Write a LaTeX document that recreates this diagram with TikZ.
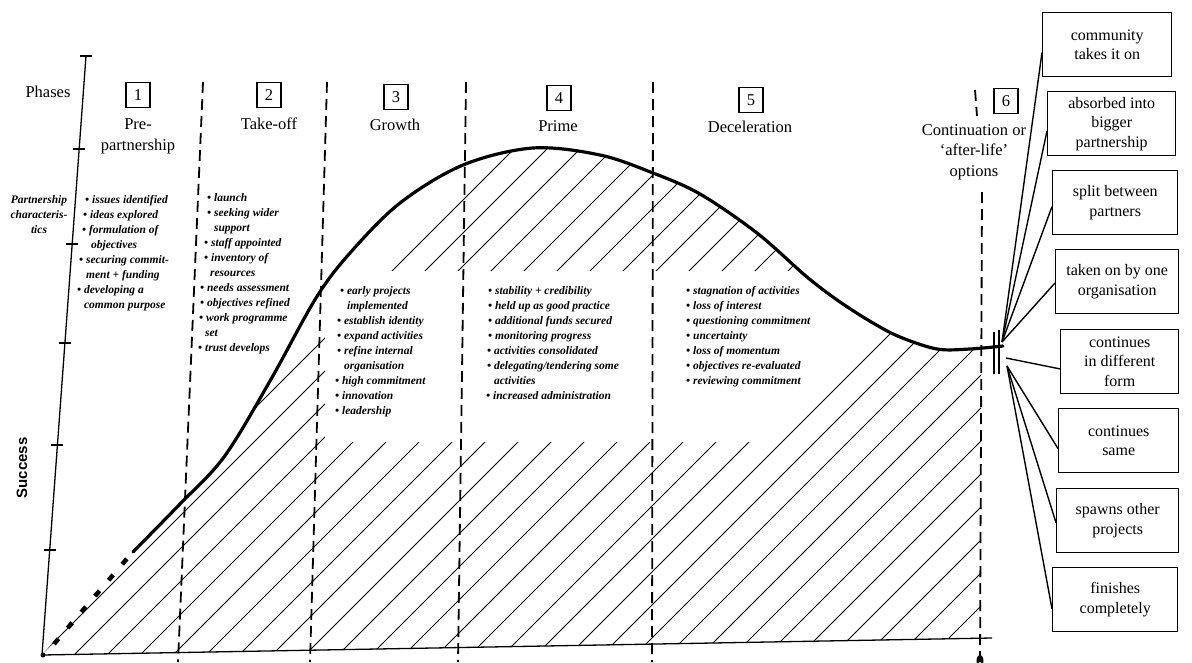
\documentclass[tikz,border=0pt]{standalone}
\usepackage{fontspec}
\setmainfont{Liberation Serif}
\newfontfamily\axisfont{Liberation Sans}
\usetikzlibrary{calc}
% bullet line and continuation line of a characteristics list
\newcommand\itembul[1]{\hspace*{#1pt}\textbullet\ }
\newcommand\itemcont[1]{\hspace*{#1pt}\phantom{\textbullet\ }}
\begin{document}
\begin{tikzpicture}[x=1pt,y=-1pt,
  phasebox/.style={draw,line width=1.3pt,minimum width=24pt,minimum height=25pt,inner sep=0pt,font=\fontsize{16.5}{18}\selectfont},
  headtext/.style={font=\fontsize{16.5}{21}\selectfont,align=center,inner sep=0pt},
  listtext/.style={font=\fontsize{11.5}{15}\selectfont\bfseries\itshape,align=left,inner sep=0pt,anchor=north west},
  optionbox/.style={draw,line width=1.4pt,minimum height=64pt,inner sep=0pt,align=center,font=\fontsize{16}{19.5}\selectfont,anchor=north west},
  separator/.style={line width=1.8pt,dash pattern=on 11pt off 6pt},
  growth/.style={line width=3.2pt,line join=round,line cap=round},
  hatchline/.style={line width=0.9pt},
  fanline/.style={line width=1.4pt},
  axisline/.style={line width=1.3pt},
]
\useasboundingbox (0,0) rectangle (1192,662);
\fill[white] (0,0) rectangle (1192,662);

% hatching under the growth curve
\begin{scope}
  \clip (0,0) rectangle (981,662);
  \clip (42,655) -- (133,552) -- plot[smooth,tension=0.55] coordinates {(133,552) (179,505) (224,457) (270,381) (316,298) (350,253) (400,203) (463,165) (533,148) (600,155) (653,173) (700,194) (757,233) (807,277) (840,302) (873,323) (900,337) (937,349) (970,349) (1003,346)} -- (1003,638) -- cycle;
  \foreach \i in {0,...,31} \draw[hatchline] ({663+33*\i-700},700) -- ({663+33*\i},0);
\end{scope}
% blank band behind the middle lists
\fill[white] (325,271) -- (936,271) -- (765,442) -- (325,442) -- cycle;

% phase separators
\draw[separator] (203,82) -- (178,662);
\draw[separator] (327,82) -- (310,662);
\draw[separator] (466,82) -- (458,662);
\draw[separator] (653,82) -- (652,662);
\draw[separator] (975,90) -- (977,116);
\draw[separator] (982,192) -- (980,662);

% axes
\draw[axisline] (86,56) -- (42,655) -- (992,638);
\draw[axisline] (80,56) -- (92,56);
\foreach \t in {149,244,343,445,550}
  \draw[axisline] ($(86,56)!{(\t-56)/599}!(42,655)$) ++(-6,0) -- ++(12,0);
\fill (43,655) circle (2.5);
\node[inner sep=0pt,anchor=north,font=\fontsize{16}{18}\selectfont\bfseries] (zero) at (980,656) {0};
\node[rotate=90,inner sep=0pt,font=\axisfont\fontsize{15}{18}\selectfont\bfseries] (success) at (22,468) {Success};

% growth curve
\draw[line width=4.5pt,dash pattern=on 7pt off 14pt] (54,644) -- (131,554);
\draw[growth] plot[smooth,tension=0.55] coordinates {(133,552) (179,505) (224,457) (270,381) (316,298) (350,253) (400,203) (463,165) (533,148) (600,155) (653,173) (700,194) (757,233) (807,277) (840,302) (873,323) (900,337) (937,349) (970,349) (1003,346)};
\draw[axisline] (994,332) -- (994,374);
\draw[axisline] (999,330) -- (999,374);

% headings
\node[headtext] (phases) at (48,92) {Phases};
\node[phasebox] (n1) at (138,95) {1};
\node[headtext] (h1) at (138,136) {Pre-\\partnership};
\node[phasebox] (n2) at (269,95) {2};
\node[headtext,anchor=base] (h2) at (269,129) {Take-off};
\node[phasebox] (n3) at (396,97) {3};
\node[headtext,anchor=base] (h3) at (395,130) {Growth};
\node[phasebox] (n4) at (559,98) {4};
\node[headtext,anchor=base] (h4) at (558,131) {Prime};
\node[phasebox] (n5) at (751,100) {5};
\node[headtext,anchor=base] (h5) at (750,132) {Deceleration};
\node[phasebox] (n6) at (1006,101) {6};
\node[headtext,font=\fontsize{16.5}{20.5}\selectfont] (h6) at (974,152) {Continuation or\\`after-life'\\options};

% characteristics
\node[listtext,align=center,anchor=center] (pc) at (39,215) {Partnership\\characteris-\\tics};
\node[listtext] (l1) at (77,195) {%
\itembul{8}issues identified\\
\itembul{6}ideas explored\\
\itembul{5}formulation of\\
\itemcont{7}objectives\\
\itembul{2}securing commit-\\
\itemcont{2}ment + funding\\
\itembul{0}developing a\\
\itemcont{0}common purpose};
\node[listtext] (l2) at (198,193) {%
\itembul{9}launch\\
\itembul{9}seeking wider\\
\itemcont{9}support\\
\itembul{6}staff appointed\\
\itembul{6}inventory of\\
\itemcont{5}resources\\
\itembul{2}needs assessment\\
\itembul{2}objectives refined\\
\itembul{1}work programme\\
\itemcont{0}set\\
\itembul{0}trust develops};
\node[listtext] (l3) at (335,286) {%
\itembul{5}early projects\\
\itemcont{5}implemented\\
\itembul{2}establish identity\\
\itembul{2}expand activities\\
\itembul{2}refine internal\\
\itemcont{2}organisation\\
\itembul{0}high commitment\\
\itembul{0}innovation\\
\itembul{0}leadership};
\node[listtext] (l4) at (486,286) {%
\itembul{2}stability + credibility\\
\itembul{2}held up as good practice\\
\itembul{2}additional funds secured\\
\itembul{2}monitoring progress\\
\itembul{1}activities consolidated\\
\itembul{1}delegating/tendering some\\
\itemcont{1}activities\\
\itembul{0}increased administration};
\node[listtext] (l5) at (686,286) {%
\itembul{0}stagnation of activities\\
\itembul{0}loss of interest\\
\itembul{0}questioning commitment\\
\itembul{0}uncertainty\\
\itembul{0}loss of momentum\\
\itembul{0}objectives re-evaluated\\
\itembul{0}reviewing commitment};

% after-life options
\node[optionbox,minimum width=129pt] (b1) at (1042,12) {community\\takes it on};
\node[optionbox,minimum width=128pt] (b2) at (1047,91) {absorbed into\\bigger\\partnership};
\node[optionbox,minimum width=125pt] (b3) at (1052,170) {split between\\partners};
\node[optionbox,minimum width=123pt] (b4) at (1055,249) {taken on by one\\organisation};
\node[optionbox,minimum width=118pt] (b5) at (1060,329) {continues\\in different\\form};
\node[optionbox,minimum width=120pt] (b6) at (1058,408) {continues\\same};
\node[optionbox,minimum width=122pt] (b7) at (1056,488) {spawns other\\projects};
\node[optionbox,minimum width=125pt] (b8) at (1052,567) {finishes\\completely};

\coordinate (fanA) at (1002,342);
\coordinate (fanB) at (1006,358);
\coordinate (fanC) at (1007,366);
\draw[fanline] (fanA) -- ($(b1.north west)!0.62!(b1.south west)$);
\draw[fanline] (fanA) -- ($(b2.north west)!0.61!(b2.south west)$);
\draw[fanline] (fanA) -- ($(b3.north west)!0.56!(b3.south west)$);
\draw[fanline] (fanA) -- ($(b4.north west)!0.52!(b4.south west)$);
\draw[fanline] (fanB) -- ($(b5.north west)!0.61!(b5.south west)$);
\draw[fanline] (fanC) -- ($(b6.north west)!0.62!(b6.south west)$);
\draw[fanline] (fanC) -- ($(b7.north west)!0.53!(b7.south west)$);
\draw[fanline] (fanC) -- ($(b8.north west)!0.64!(b8.south west)$);
\end{tikzpicture}
\end{document}
